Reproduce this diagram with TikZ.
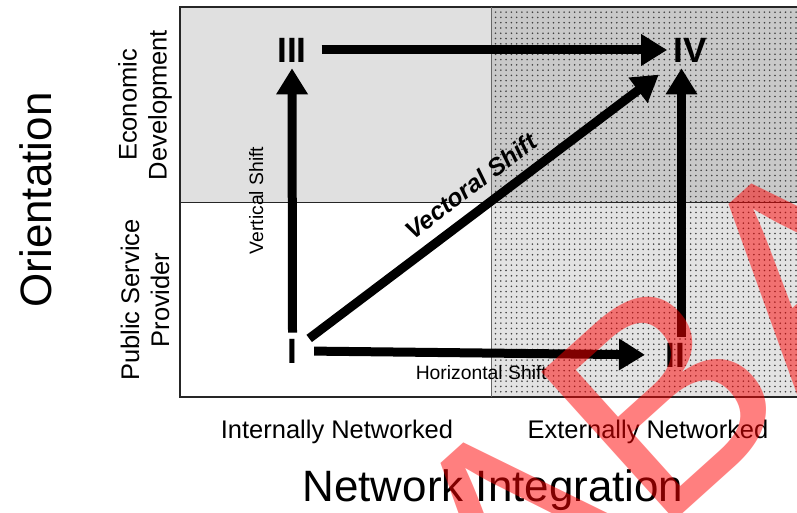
\documentclass[tikz,border=0pt]{standalone}
\usepackage{fontspec}
\setmainfont{Liberation Sans}
\usetikzlibrary{arrows.meta,patterns}

\tikzset{
  quadlabel/.style={font=\bfseries\fontsize{20}{24}\selectfont},
  shiftarrow/.style={line width=0.18cm, -{Triangle[length=0.52cm,width=0.6cm]}},
  shiftlabel/.style={font=\fontsize{11}{13}\selectfont},
  catlabel/.style={font=\fontsize{14.5}{17}\selectfont, align=center},
  axislabel/.style={font=\fontsize{25}{30}\selectfont},
}

\begin{document}
\begin{tikzpicture}
    \clip (0,0) rectangle (15.94,10.26);

    % quadrants
    \fill[gray!24] (3.6,6.22) rectangle (9.82,10.12);
    \fill[gray!42] (9.82,6.22) rectangle (16.4,10.12);
    \fill[pattern=dots, pattern color=black!75] (9.82,6.22) rectangle (16.4,10.12);
    \fill[gray!22] (9.82,2.32) rectangle (16.4,6.22);
    \fill[pattern=dots, pattern color=black!75] (9.82,2.32) rectangle (16.4,6.22);
    \draw[line width=0.7pt, black!85] (3.6,2.32) rectangle (16.4,10.12);
    \draw[line width=0.5pt, black!85] (3.6,6.22) -- (16.4,6.22);
    \draw[line width=0.5pt, black!60] (9.82,2.32) -- (9.82,10.12);

    % stages
    \node[quadlabel] (I)   at (5.85,3.24) {I};
    \node[quadlabel] (II)  at (13.5,3.16) {II};
    \node[quadlabel] (III) at (5.84,9.26) {III};
    \node[quadlabel] (IV)  at (13.8,9.26) {IV};

    % shifts
    \draw[shiftarrow] (I.north) -- (III.south)
        node[midway, xshift=-7.2mm, rotate=90, shiftlabel] {Vertical Shift};
    \draw[shiftarrow, shorten <=6pt, shorten >=8pt] (I.east) -- (II.west)
        node[midway, below=0.5mm, shiftlabel] {Horizontal Shift};
    \draw[shiftarrow, shorten <=5pt] (III.east) -- (IV.west);
    \draw[shiftarrow, shorten <=4pt, shorten >=6pt] ([yshift=-2mm]I.north east) -- (IV.south west)
        node[pos=0.5, sloped, above=1mm, font=\bfseries\itshape\fontsize{14}{16}\selectfont] {Vectoral Shift};
    \draw[shiftarrow] ([xshift=1.3mm]II.north) -- ([xshift=1.3mm]II.north |- IV.south);

    % axes
    \node[catlabel, rotate=90] (econ) at (2.9,8.16) {Economic\\Development};
    \node[catlabel, rotate=90] (psp)  at (2.9,4.26) {Public Service\\Provider};
    \node[axislabel, rotate=90] (orient) at (0.72,6.26) {Orientation};
    \node[catlabel] (intnet) at (6.74,1.62) {Internally Networked};
    \node[catlabel] (extnet) at (12.96,1.62) {Externally Networked};
    \node[axislabel] (netint) at (9.86,0.46) {Network Integration};

    % watermark
    \node[text=red, opacity=0.5, rotate=42, font=\fontsize{165}{165}\selectfont] (mark) at (13.25,2.3) {ABA};
\end{tikzpicture}
\end{document}
